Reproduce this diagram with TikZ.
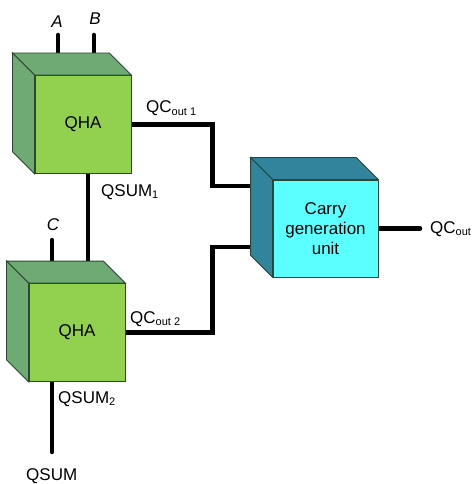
\documentclass[tikz,border=0pt]{standalone}
\usepackage{fontspec}
\setmainfont{Liberation Sans}
\usepackage{tikz}
\usetikzlibrary{calc,backgrounds}
\definecolor{qhafront}{RGB}{146,208,80}
\definecolor{qhaside}{RGB}{111,170,116}
\definecolor{cgufront}{RGB}{92,255,255}
\definecolor{cguside}{RGB}{49,132,155}
\definecolor{edgedark}{RGB}{40,72,52}

\newcommand{\subtxt}[1]{\raisebox{-2.5bp}{\fontsize{11bp}{11bp}\selectfont #1}}
\newcommand{\cubesides}[2]{%
  \filldraw[face=#2] (#1.north west) -- ++(-22,-22) -- ($(#1.north east)+(-22,-22)$) -- (#1.north east) -- cycle;
  \filldraw[face=#2] (#1.north west) -- ++(-22,-22) -- ($(#1.south west)+(-22,-22)$) -- (#1.south west) -- cycle;
  \coordinate (#1back) at ($(#1.north)+(0,-22)$);}

\begin{document}
\begin{tikzpicture}[x=1bp, y=-1bp,
    unit/.style={draw=edgedark, line width=0.8bp, fill=#1, minimum height=98bp, inner sep=0pt, align=center, font=\fontsize{17bp}{20bp}\selectfont},
    face/.style={draw=edgedark, line width=0.8bp, fill=#1},
    wire/.style={line width=4.5bp, line cap=round},
    lbl/.style={font=\fontsize{17bp}{20bp}\selectfont, inner sep=0pt}
]
\useasboundingbox (0,0) rectangle (475,484);

\node[unit=qhafront, minimum width=96bp] (qha1) at (83,124.5) {QHA};
\cubesides{qha1}{qhaside}
\node[unit=qhafront, minimum width=96bp] (qha2) at (77,332.5) {QHA};
\cubesides{qha2}{qhaside}
\node[unit=cgufront, minimum width=105bp, minimum height=97bp] (cgu) at (325.5,228.5) {Carry\\generation\\unit};
\cubesides{cgu}{cguside}

\coordinate (inA) at (58,35);
\coordinate (inB) at (94,35);
\coordinate (inC) at (52,240);
\coordinate (cin1) at (251,186);
\coordinate (cin2) at (251,247);
\coordinate (qsum) at (52,452);
\coordinate (qcout) at (420,228.5);

\begin{scope}[on background layer]
\draw[wire] (inA) -- (inA |- qha1back);
\draw[wire] (inB) -- (inB |- qha1back);
\draw[wire] (inC) -- (inC |- qha2back);
\draw[wire] ([xshift=5bp]qha1.south) -- ([xshift=5bp]qha1.south |- qha2back);
\draw[wire] (qha1.east) -- ++(81,0) |- (cin1);
\draw[wire] (qha2.east) -- ++(87,0) |- (cin2);
\draw[wire] (qha2.south -| qsum) -- (qsum);
\draw[wire] (cgu.east) -- (qcout);
\end{scope}

\node[lbl, anchor=base, font=\fontsize{17bp}{20bp}\selectfont\itshape] (labA) at (57,28) {A};
\node[lbl, anchor=base, font=\fontsize{17bp}{20bp}\selectfont\itshape] (labB) at (95,25) {B};
\node[lbl, anchor=base, font=\fontsize{17bp}{20bp}\selectfont\itshape] (labC) at (53,230) {C};
\node[lbl, anchor=base west] (labqc1) at (146,113) {QC\subtxt{out 1}};
\node[lbl, anchor=base west] (labqs1) at (101,196) {QSUM\subtxt{1}};
\node[lbl, anchor=base west] (labqc2) at (130,323) {QC\subtxt{out 2}};
\node[lbl, anchor=base west] (labqs2) at (58,403) {QSUM\subtxt{2}};
\node[lbl, anchor=base west] (labqs) at (26,480) {QSUM};
\node[lbl, anchor=base west] (labqc) at (430,233) {QC\subtxt{out}};
\end{tikzpicture}
\end{document}
